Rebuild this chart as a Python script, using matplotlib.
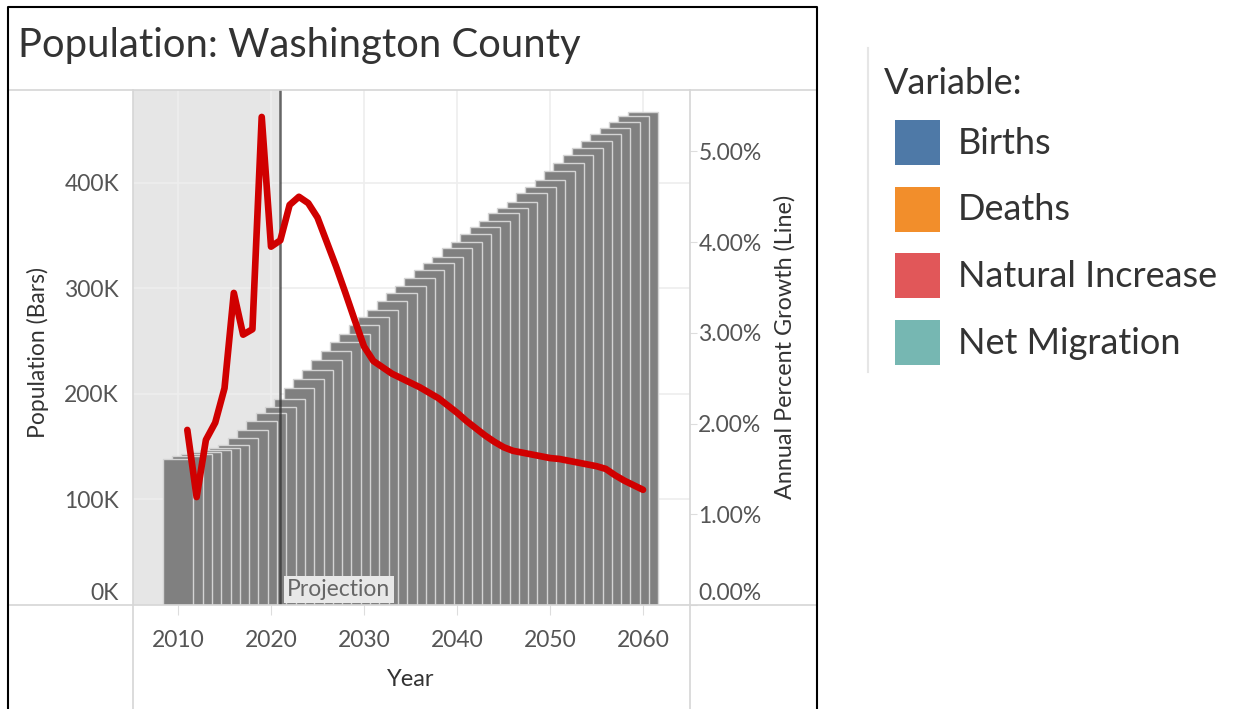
import numpy as np
import matplotlib
matplotlib.use("Agg")
import matplotlib.pyplot as plt
from matplotlib.lines import Line2D
from matplotlib.patches import Rectangle
from matplotlib.ticker import FuncFormatter, FixedLocator
import matplotlib.transforms as mtransforms

plt.rcParams['font.family'] = ['Lato', 'DejaVu Sans']

## Data
years = list(range(2010, 2061))
pop_k = [138, 141, 143, 145, 147, 149, 152, 158, 166, 174,
         182, 188, 195, 206, 214, 223, 232, 241, 249, 257,
         265, 273, 280, 288, 296, 302, 310, 317, 324, 330,
         338, 344, 352, 358, 364, 371, 376, 382, 390, 396,
         403, 411, 419, 426, 433, 440, 446, 452, 458, 463, 467]

growth_years = list(range(2011, 2061))
growth_pct = [1.93, 1.19, 1.82, 2.01, 2.39, 3.44, 2.98, 3.04, 5.38, 3.95,
              4.02, 4.41, 4.50, 4.43, 4.27, 4.00, 3.73, 3.44, 3.14, 2.85,
              2.69, 2.62, 2.55, 2.50, 2.45, 2.40, 2.34, 2.28, 2.20, 2.12,
              2.03, 1.95, 1.87, 1.80, 1.74, 1.70, 1.68, 1.66, 1.64, 1.62,
              1.61, 1.59, 1.57, 1.55, 1.53, 1.50, 1.43, 1.37, 1.32, 1.27]

projection_start = 2021
left_ticks = [0, 100, 200, 300, 400]
right_ticks = [0, 1, 2, 3, 4, 5]
x_ticks = [2010, 2020, 2030, 2040, 2050, 2060]

legend_title = 'Variable:'
legend_labels = ['Births', 'Deaths', 'Natural Increase', 'Net Migration']
legend_colors = ['#4e79a7', '#f28e2b', '#e15759', '#76b7b2']

W, H = 1238, 709
def fx(x):
    return x / W
def fy(y):
    return 1 - y / H

fig = plt.figure(figsize=(W / 100, H / 100), dpi=100)
ax = fig.add_axes([fx(133), fy(605), fx(690) - fx(133), fy(90) - fy(605)])
ax2 = ax.twinx()

## shaded history part + projection line
ax.axvspan(2004, projection_start, color='#e6e6e6', zorder=0, lw=0)
ax.set_axisbelow(True)
ax.grid(True, color='#eeeeee', lw=1.2)

# draw reversed so earlier bars sit on top (staircase look)
ax.bar(years[::-1], pop_k[::-1], width=3.3, color='#808080',
       edgecolor='#d4d4d4', linewidth=1.0, zorder=2)
ax.axvline(projection_start, color='#333333', alpha=0.75, lw=1.8, zorder=3)
ax.annotate('Projection', xy=(projection_start + 0.75, 0.03),
            xycoords=('data', 'axes fraction'), ha='left', va='center',
            fontsize=16.5, color='#666666', zorder=4,
            bbox=dict(facecolor='#e8e8e8', edgecolor='none', pad=2.5))

ax2.plot(growth_years, growth_pct, color='#d00000', lw=4.8,
         solid_joinstyle='round', solid_capstyle='round', zorder=5)

ax.set_xlim(2005.16, 2065.05)
ax.set_ylim(0, 488)
ax2.set_ylim(0, 5.677)

ax.xaxis.set_major_locator(FixedLocator(x_ticks))
ax.yaxis.set_major_locator(FixedLocator(left_ticks))
ax2.yaxis.set_major_locator(FixedLocator(right_ticks))
ax.yaxis.set_major_formatter(FuncFormatter(lambda v, p: '{:.0f}K'.format(v)))
ax2.yaxis.set_major_formatter(FuncFormatter(lambda v, p: '{:.2f}%'.format(v)))

for a in (ax, ax2):
    for s in a.spines.values():
        s.set_visible(False)
ax.tick_params(axis='x', length=7, color='#dddddd', pad=11, labelsize=16.5, labelcolor='#555555')
ax.tick_params(axis='y', length=0, pad=10, labelsize=16.5, labelcolor='#555555')
ax2.tick_params(axis='y', length=5, color='#dddddd', pad=1, labelsize=16.5, labelcolor='#555555')

fig.canvas.draw()
# zero labels sit a bit higher in the original
off = mtransforms.ScaledTranslation(0, 0.14, fig.dpi_scale_trans)
for a in (ax, ax2):
    for t in a.yaxis.get_major_ticks():
        if t.get_loc() == 0:
            t.label1.set_transform(t.label1.get_transform() + off)
            t.label2.set_transform(t.label2.get_transform() + off)

## frame lines
grey = '#d6d6d6'
for xs, ys in [([8, 817], [90, 90]), ([8, 817], [605, 605]),
               ([133, 133], [90, 709]), ([690, 690], [90, 709])]:
    fig.add_artist(Line2D([fx(v) for v in xs], [fy(v) for v in ys],
                          color=grey, lw=1.2, transform=fig.transFigure))
fig.add_artist(Line2D([fx(8), fx(8), fx(817), fx(817)], [fy(709), fy(7), fy(7), fy(709)],
                      color='black', lw=1.5, transform=fig.transFigure))

## texts
fig.text(fx(18), fy(46), 'Population: Washington County', fontsize=28.8,
         color='#333333', ha='left', va='center')
fig.text(fx(38), fy(352), 'Population (Bars)', rotation=90, fontsize=16.5,
         color='#333333', ha='center', va='center')
fig.text(fx(785), fy(347), 'Annual Percent Growth (Line)', rotation=90, fontsize=16.8,
         color='#333333', ha='center', va='center')
fig.text(fx(411), fy(680), 'Year', fontsize=17, color='#333333', ha='center', va='center')

## legend
fig.add_artist(Line2D([fx(868), fx(868)], [fy(48), fy(372)], color='#e6e6e6',
                      lw=1.5, transform=fig.transFigure))
fig.text(fx(884), fy(83), legend_title, fontsize=26, color='#333333', ha='left', va='center')
for i, (lab, col) in enumerate(zip(legend_labels, legend_colors)):
    yc = 143 + i * 66.7
    fig.add_artist(Rectangle((fx(895), fy(yc + 22)), fx(45), 45 / H, facecolor=col,
                             edgecolor='none', transform=fig.transFigure))
    fig.text(fx(958), fy(yc), lab, fontsize=26, color='#333333', ha='left', va='center')

fig.savefig('out.png', dpi=100)
